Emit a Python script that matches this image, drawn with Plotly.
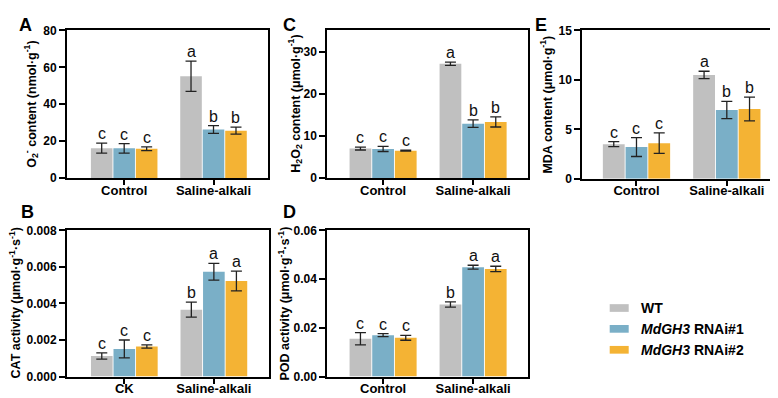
import plotly.graph_objects as go

W, H = 778, 398

# ---------------- data ----------------
genotypes = ["WT", "MdGH3 RNAi#1", "MdGH3 RNAi#2"]
legend_labels = ["<b>WT</b>", "<b><i>MdGH3</i> RNAi#1</b>", "<b><i>MdGH3</i> RNAi#2</b>"]
colors = ["#C0C0C0", "#7AAFC7", "#F4B334"]

cats_A = ["Control", "Saline-alkali"]
cats_B = ["CK", "Saline-alkali"]
cats_C = ["Control", "Saline-alkali"]
cats_D = ["Control", "Saline-alkali"]
cats_E = ["Control", "Saline-alkali"]

# means per genotype: [condition1, condition2]
A_mean = [[16.2, 55.2], [16.1, 26.3], [15.9, 25.7]]
A_err = [[2.7, 8.2], [2.6, 2.1], [1.0, 1.9]]
A_sig = [["c", "a"], ["c", "b"], ["c", "b"]]

B_mean = [[0.00112, 0.00366], [0.00151, 0.00574], [0.00164, 0.00523]]
B_err = [[0.00017, 0.00041], [0.00049, 0.00046], [0.00009, 0.00054]]
B_sig = [["c", "b"], ["c", "a"], ["c", "a"]]

C_mean = [[7.0, 27.1], [6.9, 12.9], [6.5, 13.3]]
C_err = [[0.35, 0.4], [0.6, 0.9], [0.1, 1.2]]
C_sig = [["c", "a"], ["c", "b"], ["c", "b"]]

D_mean = [[0.0155, 0.0296], [0.0170, 0.0449], [0.0159, 0.0442]]
D_err = [[0.0025, 0.0011], [0.0006, 0.0008], [0.0010, 0.0011]]
D_sig = [["c", "b"], ["c", "a"], ["c", "a"]]

E_mean = [[3.5, 10.5], [3.2, 6.95], [3.6, 7.05]]
E_err = [[0.25, 0.37], [0.95, 0.87], [1.03, 1.2]]
E_sig = [["c", "a"], ["c", "b"], ["c", "b"]]

y_titles = {
    "A": "<b>O<sub>2</sub><sup>-</sup> content (nmol·g<sup>-1</sup>)</b>",
    "B": "<b>CAT activity (μmol·g<sup>-1</sup>·s<sup>-1</sup>)</b>",
    "C": "<b>H<sub>2</sub>O<sub>2</sub> content (μmol·g<sup>-1</sup>)</b>",
    "D": "<b>POD activity (μmol·g<sup>-1</sup>·s<sup>-1</sup>)</b>",
    "E": "<b>MDA content (μmol·g<sup>-1</sup>)</b>",
}

FONT = "Liberation Sans, Arial, sans-serif"

# panel layout in pixels: (x0, x1, ytop, ybottom), y-range, ticks, tickformat, xrange, title center x
panels = [
    dict(key="A", cats=cats_A, mean=A_mean, err=A_err, sig=A_sig, px=(59, 260, 16, 169),
         yr=[0, 80], dtick=20, fmt="", xr=[-0.64, 1.61], tx=23.5, lx=17, ly=10.5),
    dict(key="B", cats=cats_B, mean=B_mean, err=B_err, sig=B_sig, px=(59, 260.5, 223.3, 374.7),
         yr=[0, 0.008], dtick=0.002, fmt=".3f", xr=[-0.64, 1.61], tx=7, lx=19, ly=204.5),
    dict(key="C", cats=cats_C, mean=C_mean, err=C_err, sig=C_sig, px=(319.3, 520, 16, 169),
         yr=[0, 35], dtick=10, fmt="", xr=[-0.62, 1.61], tx=287.5, lx=281, ly=10.5),
    dict(key="D", cats=cats_D, mean=D_mean, err=D_err, sig=D_sig, px=(319.3, 520, 223.3, 374.7),
         yr=[0, 0.06], dtick=0.02, fmt=".2f", xr=[-0.62, 1.61], tx=276, lx=281, ly=204.5),
    dict(key="E", cats=cats_E, mean=E_mean, err=E_err, sig=E_sig, px=(574.3, 773, 16, 169.7),
         yr=[0, 15], dtick=5, fmt="", xr=[-0.6, 1.6], tx=538, lx=532.5, ly=10.5),
]

BARGAP = 0.245
slot = (1 - BARGAP) / 3

fig = go.Figure()
annotations = []
layout = {}

for i, p in enumerate(panels):
    n = "" if i == 0 else str(i + 1)
    xa, ya = "x" + n, "y" + n
    x0, x1, yt, yb = p["px"]
    for g in range(3):
        fig.add_trace(go.Bar(
            x=p["cats"], y=p["mean"][g], name=genotypes[g],
            marker=dict(color=colors[g], line=dict(width=0)),
            error_y=dict(type="data", array=p["err"][g], visible=True,
                         color="#222222", thickness=1.3, width=5.5),
            xaxis=xa, yaxis=ya, showlegend=False,
        ))
        for c in range(2):
            annotations.append(dict(
                x=c + (g - 1) * slot, y=p["mean"][g][c] + p["err"][g][c],
                xref=xa, yref=ya, text=p["sig"][g][c], showarrow=False,
                yanchor="bottom", xanchor="center", yshift=-1,
                font=dict(family=FONT, size=16, color="#111111"),
            ))
    layout["xaxis" + n] = dict(
        domain=[x0 / W, x1 / W], anchor=ya, type="category", range=p["xr"],
        showline=True, linewidth=2, linecolor="black", mirror=True,
        ticks="outside", ticklen=5, tickwidth=2, tickcolor="black",
        ticklabelstandoff=-6,
        tickfont=dict(family=FONT, size=13, color="black", weight="bold"),
        showgrid=False, zeroline=False, fixedrange=True,
    )
    layout["yaxis" + n] = dict(
        domain=[1 - yb / H, 1 - yt / H], anchor=xa, range=p["yr"], dtick=p["dtick"],
        tick0=0, tickformat=p["fmt"],
        showline=True, linewidth=2, linecolor="black", mirror=True,
        ticks="outside", ticklen=6, tickwidth=2, tickcolor="black",
        tickfont=dict(family=FONT, size=12, color="black", weight="bold"),
        showgrid=False, zeroline=False, fixedrange=True,
    )
    # y-axis title
    annotations.append(dict(
        x=p["tx"] / W, y=1 - ((yt + yb) / 2) / H, xref="paper", yref="paper",
        text=y_titles[p["key"]], textangle=-90, showarrow=False,
        xanchor="center", yanchor="middle",
        font=dict(family=FONT, size=12.5, color="black"),
    ))
    # panel letter
    annotations.append(dict(
        x=p["lx"] / W, y=1 - p["ly"] / H, xref="paper", yref="paper",
        text="<b>" + p["key"] + "</b>", showarrow=False,
        xanchor="center", yanchor="middle",
        font=dict(family=FONT, size=18, color="black"),
    ))

# custom legend
shapes = []
leg_y = [303.7, 325.3, 347]
for g in range(3):
    shapes.append(dict(type="rect", xref="paper", yref="paper",
                       x0=601.7 / W, x1=620.7 / W,
                       y0=1 - (leg_y[g] + 4) / H, y1=1 - (leg_y[g] - 4) / H,
                       fillcolor=colors[g], line=dict(width=0)))
    annotations.append(dict(
        x=631 / W, y=1 - leg_y[g] / H, xref="paper", yref="paper",
        text=legend_labels[g], showarrow=False, xanchor="left", yanchor="middle",
        font=dict(family=FONT, size=14, color="black"),
    ))

fig.update_layout(
    width=W, height=H, margin=dict(l=0, r=0, t=0, b=0),
    paper_bgcolor="white", plot_bgcolor="white",
    barmode="group", bargap=BARGAP, bargroupgap=0.04,
    annotations=annotations, shapes=shapes, showlegend=False,
    font=dict(family=FONT),
    **layout,
)

fig.write_html("out.html")
